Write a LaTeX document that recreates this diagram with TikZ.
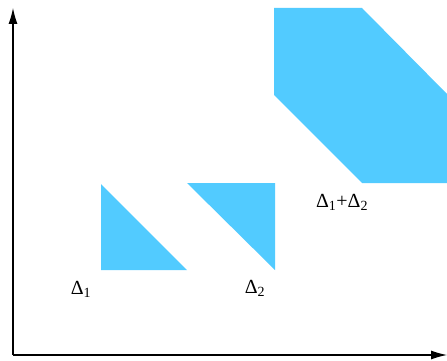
\documentclass[tikz,border=0pt]{standalone}
\usepackage{fontspec}
\setmainfont{Liberation Serif}
\usetikzlibrary{arrows.meta}
\definecolor{fillblue}{RGB}{82,203,255}
\begin{document}
\begin{tikzpicture}[x=1pt,y=-1pt,
  region/.style={fill=fillblue,draw=none},
  axis/.style={line width=1.1pt,-{Latex[length=16pt,width=9pt]}},
  lbl/.style={font=\fontsize{20}{22}\selectfont,inner sep=0pt}]
\useasboundingbox (0,0) rectangle (447,361);
\fill[white] (0,0) rectangle (447,361);
% regions
\path[region] (101,184) -- (101,270) -- (187,270) -- cycle;
\path[region] (187,183) -- (275,183) -- (275,270) -- cycle;
\path[region] (274,8) -- (362,8) -- (448,95) -- (448,183) -- (362,183) -- (274,95) -- cycle;
% axes
\coordinate (o) at (13,355);
\coordinate (ytip) at (13,8);
\coordinate (xtip) at (447,355);
\draw[axis] (o) -- (ytip);
\draw[axis] (o) -- (xtip);
% labels
\node[lbl] (l1) at (81,289) {Δ\textsubscript{1}};
\node[lbl] (l2) at (255,288) {Δ\textsubscript{2}};
\node[lbl] (l3) at (342,202) {Δ\textsubscript{1}+Δ\textsubscript{2}};
\end{tikzpicture}
\end{document}
